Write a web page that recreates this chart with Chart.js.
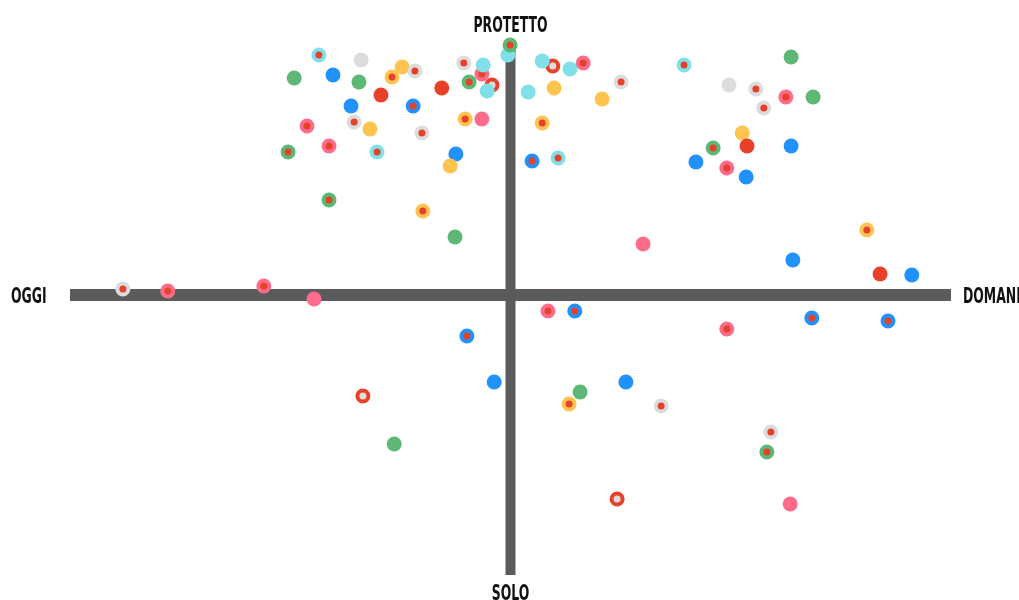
<!DOCTYPE html>
<html>
<head>
<meta charset="utf-8">
<script src="https://cdn.jsdelivr.net/npm/chart.js@4"></script>
<style>
    body { margin: 0; background: #fff; }
    #wrap { width: 1019px; height: 600px; position: relative; }
</style>
</head>
<body>
<div id="wrap"><canvas id="quadChart"></canvas></div>
<script>
// Axis labels
const labelTop = 'PROTETTO';
const labelBottom = 'SOLO';
const labelLeft = 'OGGI';
const labelRight = 'DOMANI';

// Plain dots, per colour  (x: oggi -> domani, y: solo -> protetto)
const greenPlain = [[-49.1, 86.8], [-34.4, 85.2], [-12.6, 23.2], [63.7, 95.2], [68.7, 79.2], [15.8, -38.8], [-26.4, -59.6]];
const cyanPlain = [[-6.2, 92], [-5.3, 81.6], [-0.6, 96], [4.0, 81.2], [7.2, 93.6], [13.5, 90.4]];
const grayPlain = [[-33.9, 94], [49.6, 84]];
const yellowPlain = [[-24.6, 91.2], [-31.9, 66.4], [-13.7, 51.6], [9.9, 82.8], [20.8, 78.4], [52.6, 64.8]];
const bluePlain = [[-40.3, 88], [-36.2, 75.6], [-12.4, 56.4], [63.7, 59.6], [42.1, 53.2], [53.5, 47.2], [64.1, 14], [91.1, 8], [-3.7, -34.8], [26.2, -34.8]];
const redPlain = [[-29.4, 80], [-15.6, 82.8], [53.7, 59.6], [83.9, 8.4]];
const pinkPlain = [[-6.5, 70.4], [30.1, 20.4], [-44.6, -1.6], [63.5, -83.6]];

// Dots with a red centre
const cyanMarked = [[-43.5, 96], [-30.3, 57.2], [10.8, 54.8], [39.4, 92]];
const grayMarked = [[-21.7, 89.6], [-10.6, 92.8], [-35.5, 69.2], [-20.1, 64.8], [25.1, 85.2], [55.7, 82.4], [57.5, 74.8], [34.2, -44.4], [59.1, -54.8], [-88.0, 2.4]];
const yellowMarked = [[-26.9, 87.2], [-10.3, 70.4], [7.2, 68.8], [-19.9, 33.6], [80.9, 26], [13.3, -43.6]];
const greenMarked = [[-9.4, 85.2], [-50.5, 57.2], [-41.2, 38], [-0.1, 100], [46.0, 58.8], [58.2, -62.8]];
const blueMarked = [[-22.1, 75.6], [4.9, 53.6], [-9.9, -16.4], [68.4, -9.2], [85.7, -10.4], [14.6, -6.4]];
const pinkMarked = [[-6.5, 88.4], [-46.2, 67.6], [-41.2, 59.6], [16.5, 92.8], [62.5, 79.2], [49.1, 50.8], [49.1, -13.6], [8.5, -6.4], [-77.8, 1.6], [-56.0, 3.6]];

// Red rings with a grey centre
const redRings = [[-4.2, 84], [9.6, 91.6], [-33.5, -40.4], [24.2, -81.6]];

const GREEN = '#5cb874';
const CYAN = '#80e0e9';
const GRAY = '#dcdcdc';
const YELLOW = '#ffc34f';
const BLUE = '#2191fb';
const RED = '#e8412a';
const PINK = '#ff6b8b';
const BAR = '#5b5b5b';

function toPoints(list) {
    return list.map(p => ({ x: p[0], y: p[1] }));
}

function plain(list, color) {
    return {
        data: toPoints(list),
        backgroundColor: color,
        borderWidth: 0,
        pointRadius: 7.5,
        pointHoverRadius: 7.5,
        clip: false
    };
}

// outer colour ring, inner fill
function marked(list, ring, centre) {
    return {
        data: toPoints(list),
        backgroundColor: centre,
        borderColor: ring,
        borderWidth: 4,
        pointRadius: 5.5,
        pointHoverRadius: 5.5,
        clip: false
    };
}

// Draw the two thick axes under the dots, and the four words
const quadrantAxes = {
    id: 'quadrantAxes',
    beforeDatasetsDraw(chart) {
        const { ctx, chartArea, scales } = chart;
        const x0 = scales.x.getPixelForValue(0);
        const y0 = scales.y.getPixelForValue(0);
        ctx.save();
        ctx.fillStyle = BAR;
        ctx.fillRect(chartArea.left, y0 - 6, chartArea.right - chartArea.left, 12);
        ctx.fillRect(x0 - 5, chartArea.top + 4, 10, chartArea.bottom - chartArea.top - 4);
        ctx.restore();
    },
    afterDraw(chart) {
        const { ctx, scales } = chart;
        const x0 = scales.x.getPixelForValue(0);
        const y0 = scales.y.getPixelForValue(0);
        ctx.save();
        ctx.font = 'bold 22px "Liberation Sans Narrow", "DejaVu Sans Condensed", sans-serif';
        ctx.fillStyle = '#111';
        ctx.textBaseline = 'alphabetic';
        const squeeze = 74 / ctx.measureText(labelTop).width;

        function word(text, x, y, align) {
            const w = ctx.measureText(text).width * squeeze;
            let left = x;
            if (align === 'center') left = x - w / 2;
            ctx.save();
            ctx.translate(left, y);
            ctx.scale(squeeze, 1);
            ctx.fillText(text, 0, 0);
            ctx.restore();
        }

        word(labelTop, x0, 32, 'center');
        word(labelBottom, x0, 600, 'center');
        word(labelLeft, 11, y0 + 7.5, 'left');
        word(labelRight, 963, y0 + 7.5, 'left');
        ctx.restore();
    }
};

// Chart.js paints dataset 0 last, so the list runs top layer first
new Chart(document.getElementById('quadChart'), {
    type: 'scatter',
    data: {
        datasets: [
            marked(greenMarked, GREEN, RED),
            plain(cyanPlain, CYAN),
            marked(cyanMarked, CYAN, RED),
            marked(redRings, RED, GRAY),
            marked(pinkMarked, PINK, RED),
            marked(blueMarked, BLUE, RED),
            marked(yellowMarked, YELLOW, RED),
            marked(grayMarked, GRAY, RED),
            plain(pinkPlain, PINK),
            plain(redPlain, RED),
            plain(yellowPlain, YELLOW),
            plain(bluePlain, BLUE),
            plain(greenPlain, GREEN),
            plain(grayPlain, GRAY)
        ]
    },
    options: {
        responsive: true,
        maintainAspectRatio: false,
        animation: false,
        layout: {
            padding: { left: 70, right: 68, top: 45, bottom: 25 }
        },
        plugins: {
            legend: { display: false },
            tooltip: { enabled: false }
        },
        scales: {
            x: { type: 'linear', min: -100, max: 100, display: false },
            y: { type: 'linear', min: -112, max: 100, display: false }
        }
    },
    plugins: [quadrantAxes]
});
</script>
</body>
</html>
